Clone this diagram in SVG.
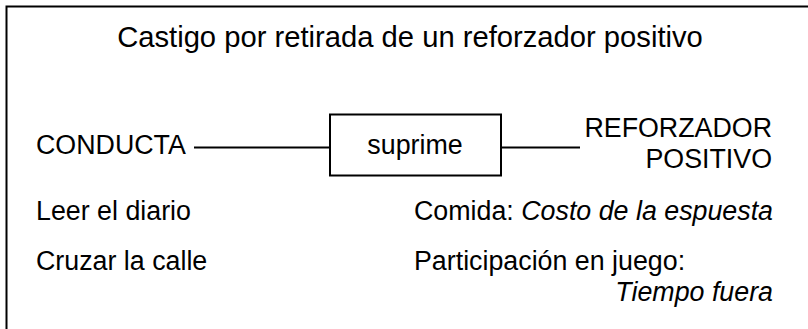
<svg xmlns="http://www.w3.org/2000/svg" width="808" height="329" viewBox="0 0 808 329">
<style>
text{font-family:"Liberation Sans",Arial,sans-serif;font-size:26.8px;fill:#000}
.title{font-size:29.2px}
.it{font-style:italic}
.ln{stroke:#000;stroke-width:2;fill:none}
</style>
<rect width="808" height="329" fill="#fff"/>
<path class="ln" d="M6.5,329 V6.5 H808"/>
<text class="title" x="410" y="47" text-anchor="middle">Castigo por retirada de un reforzador positivo</text>
<g id="conducta"><text x="36" y="154">CONDUCTA</text></g>
<g id="suprime"><rect class="ln" x="330" y="114.5" width="171" height="61"/><text x="415" y="154" text-anchor="middle">suprime</text></g>
<g id="reforzador"><text x="772" y="137" text-anchor="end">REFORZADOR</text><text x="772" y="168" text-anchor="end">POSITIVO</text></g>
<g id="connectors"><line class="ln" x1="194" y1="147.5" x2="330" y2="147.5"/><line class="ln" x1="501" y1="147.5" x2="580" y2="147.5"/></g>
<g id="ejemplos">
<text x="36" y="220">Leer el diario</text>
<text x="36" y="270">Cruzar la calle</text>
<text x="414" y="220">Comida: <tspan class="it">Costo de la espuesta</tspan></text>
<text x="414" y="270">Participación en juego:</text>
<text class="it" x="773" y="301" text-anchor="end">Tiempo fuera</text>
</g>
</svg>
